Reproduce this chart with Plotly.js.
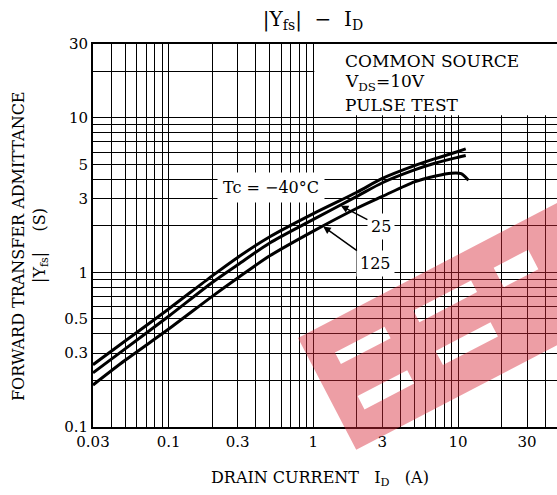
<!DOCTYPE html>
<html>
<head>
<meta charset="utf-8">
<script src="https://cdn.plot.ly/plotly-3.0.1.min.js"></script>
<style>html,body{margin:0;padding:0;background:#fff;}#chart{width:557px;height:495px;}</style>
</head>
<body>
<div id="chart"></div>
<script>
// ---- data ----
const xCold = [0.03, 0.05, 0.1, 0.2, 0.3, 0.5, 1, 2, 3, 5, 7, 10, 11.3];
const yCold = [0.253, 0.36, 0.58, 0.95, 1.25, 1.7, 2.4, 3.3, 4.05, 4.9, 5.45, 6.05, 6.3];
const xRoom = [0.03, 0.05, 0.1, 0.2, 0.3, 0.5, 1, 2, 3, 5, 7, 10, 11.3];
const yRoom = [0.224, 0.32, 0.52, 0.86, 1.12, 1.55, 2.2, 3.1, 3.8, 4.6, 5.1, 5.55, 5.7];
const xHot = [0.03, 0.05, 0.1, 0.2, 0.3, 0.5, 1, 2, 3, 5, 7, 9, 10.5, 11.8];
const yHot = [0.187, 0.27, 0.43, 0.7, 0.92, 1.28, 1.85, 2.6, 3.1, 3.85, 4.2, 4.38, 4.35, 3.95];

const xGrid = [0.03,0.04,0.05,0.06,0.07,0.08,0.09,0.1,0.2,0.3,0.4,0.5,0.6,0.7,0.8,0.9,1,2,3,4,5,6,7,8,9,10,20,30,40];
const xTicks = [0.03, 0.1, 0.3, 1, 3, 10, 30];
const xTickLabels = ["0.03", "0.1", "0.3", "1", "3", "10", "30"];
const yGrid = [0.1,0.2,0.3,0.4,0.5,0.6,0.7,0.8,0.9,1,2,3,4,5,6,7,8,9,10,20,30];
const yTicks = [0.1, 0.3, 0.5, 1, 3, 5, 10, 30];
const yTickLabels = ["0.1", "0.3", "0.5", "1", "3", "5", "10", "30"];

const FONT = "DejaVu Serif, Liberation Serif, serif";

function line(x, y) {
  return {x: x, y: y, type: "scatter", mode: "lines",
    line: {color: "#000", width: 3, shape: "spline", smoothing: 0.8},
    hoverinfo: "skip", showlegend: false};
}
const traces = [line(xCold, yCold), line(xRoom, yRoom), line(xHot, yHot)];

// ---- watermark (decoration), built in page pixels then mapped to paper ----
const PL = 93, PR = 557, PT = 44, PB = 427;
function toPaper(px, py) { return [(px - PL) / (PR - PL), (PB - py) / (PB - PT)]; }
function loc(u, v) {
  const px = 298 + u * 0.887 + v * 0.462;
  const py = 338 - u * 0.462 + v * 0.887;
  return toPaper(px, py);
}
function rectPath(u0, u1, v0, v1) {
  const pts = [loc(u0, v0), loc(u1, v0), loc(u1, v1), loc(u0, v1)];
  return "M" + pts.map(p => p[0].toFixed(4) + "," + p[1].toFixed(4)).join("L") + "Z";
}
const wmPath = rectPath(0, 420, 0, 126) +
  rectPath(26, 82, 30, 43) + rectPath(26, 82, 79, 94) +
  rectPath(115, 180, 29, 42) + rectPath(116, 178, 75, 91) +
  rectPath(206, 245, 28, 50);

const gridStyle = {showgrid: true, gridcolor: "#000", gridwidth: 1, ticks: ""};

const layout = {
  width: 557, height: 495,
  margin: {l: PL, r: 557 - PR, t: PT, b: 495 - PB, pad: 0},
  paper_bgcolor: "#fff", plot_bgcolor: "#fff",
  font: {family: FONT, color: "#000", size: 15},
  title: {text: "|Y<sub>fs</sub>|&nbsp;&nbsp;−&nbsp;&nbsp;I<sub>D</sub>",
    font: {family: FONT, size: 20, color: "#000"},
    x: (313 - PL) / (PR - PL), xref: "paper", xanchor: "center",
    y: 1 - 19 / 495, yref: "container", yanchor: "middle"},
  xaxis: {type: "log", range: [Math.log10(0.03), Math.log10(48.3)],
    tickmode: "array", tickvals: xTicks, ticktext: xTickLabels,
    showgrid: true, gridcolor: "#000", gridwidth: 1,
    minor: Object.assign({tickmode: "array", tickvals: xGrid}, gridStyle),
    showline: true, linecolor: "#000", linewidth: 2, mirror: true,
    ticks: "", zeroline: false, tickfont: {family: FONT, size: 15, color: "#000"}},
  yaxis: {type: "log", range: [-1, Math.log10(30)],
    tickmode: "array", tickvals: yTicks, ticktext: yTickLabels,
    showgrid: true, gridcolor: "#000", gridwidth: 1,
    minor: Object.assign({tickmode: "array", tickvals: yGrid}, gridStyle),
    showline: true, linecolor: "#000", linewidth: 2, mirror: false,
    ticks: "", zeroline: false, tickfont: {family: FONT, size: 15, color: "#000"}},
  shapes: [
    {type: "rect", layer: "between", xref: "x", yref: "y",
      x0: 1.015, x1: 48.3, y0: 10.4, y1: 30,
      fillcolor: "#fff", line: {width: 0}},
    {type: "path", layer: "above", xref: "paper", yref: "paper",
      path: wmPath, fillrule: "evenodd",
      fillcolor: "rgba(215,40,55,0.45)", line: {width: 0}}
  ],
  annotations: [
    {text: "COMMON SOURCE", xref: "paper", yref: "paper",
      x: (343 - PL) / (PR - PL), y: (PB - 61) / (PB - PT), xanchor: "left", yanchor: "middle",
      showarrow: false, font: {family: FONT, size: 17}},
    {text: "V<sub>DS</sub>=10V", xref: "paper", yref: "paper",
      x: (343 - PL) / (PR - PL), y: (PB - 83) / (PB - PT), xanchor: "left", yanchor: "middle",
      showarrow: false, font: {family: FONT, size: 17}},
    {text: "PULSE TEST", xref: "paper", yref: "paper",
      x: (343 - PL) / (PR - PL), y: (PB - 105) / (PB - PT), xanchor: "left", yanchor: "middle",
      showarrow: false, font: {family: FONT, size: 17}},
    {text: "Tc&nbsp;=&nbsp;−40°C", xref: "paper", yref: "paper",
      x: (271 - PL) / (PR - PL), y: (PB - 187) / (PB - PT), xanchor: "center", yanchor: "middle",
      showarrow: false, bgcolor: "#fff", borderpad: 5, font: {family: FONT, size: 16}},
    {text: "25", xref: "x", yref: "y", x: Math.log10(1.55), y: Math.log10(2.7),
      ax: 40, ay: 21, showarrow: true, arrowhead: 2, arrowsize: 1, arrowwidth: 1.5,
      arrowcolor: "#000", bgcolor: "#fff", borderpad: 3, font: {family: FONT, size: 16}},
    {text: "125", xref: "x", yref: "y", x: Math.log10(1.17), y: Math.log10(1.98),
      ax: 52, ay: 37, showarrow: true, arrowhead: 2, arrowsize: 1, arrowwidth: 1.5,
      arrowcolor: "#000", bgcolor: "#fff", borderpad: 3, font: {family: FONT, size: 16}},
    {text: "DRAIN CURRENT&nbsp;&nbsp;&nbsp;I<sub>D</sub>&nbsp;&nbsp;&nbsp;(A)", xref: "paper", yref: "paper",
      x: (320 - PL) / (PR - PL), y: (PB - 478) / (PB - PT), xanchor: "center", yanchor: "middle",
      showarrow: false, font: {family: FONT, size: 16}},
    {text: "FORWARD TRANSFER ADMITTANCE", xref: "paper", yref: "paper", textangle: -90,
      x: (18 - PL) / (PR - PL), y: (PB - 246) / (PB - PT), xanchor: "center", yanchor: "middle",
      showarrow: false, font: {family: FONT, size: 16}},
    {text: "|Y<sub>fs</sub>|&nbsp;&nbsp;&nbsp;&nbsp;(S)", xref: "paper", yref: "paper", textangle: -90,
      x: (40 - PL) / (PR - PL), y: (PB - 246) / (PB - PT), xanchor: "center", yanchor: "middle",
      showarrow: false, font: {family: FONT, size: 16}}
  ]
};

Plotly.newPlot("chart", traces, layout, {staticPlot: true, displayModeBar: false});
</script>
</body>
</html>
